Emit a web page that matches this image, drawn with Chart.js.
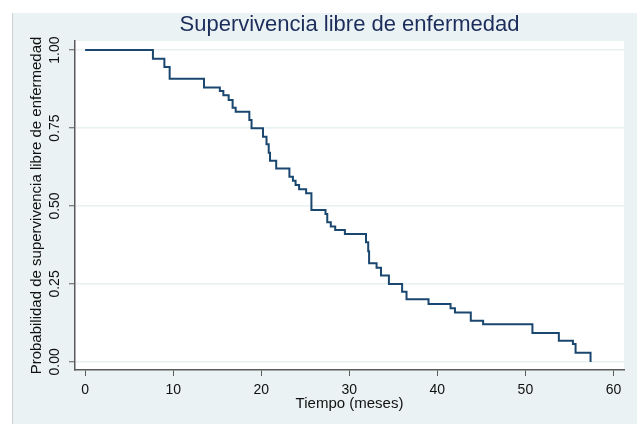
<!DOCTYPE html>
<html>
<head>
<meta charset="utf-8">
<script src="https://cdn.jsdelivr.net/npm/chart.js@4"></script>
<style>
  html, body { margin: 0; padding: 0; background: #fff; }
  #wrap { width: 637px; height: 424px; }
</style>
</head>
<body>
<div id="wrap"><canvas id="myChart" width="637" height="424"></canvas></div>
<script>
// Kaplan-Meier estimate (time in months, survival after the step)
var months = [0, 7.7, 9.0, 9.6, 13.5, 15.3, 15.7, 16.3, 16.75, 17.1, 18.65, 18.9, 20.2, 20.6, 20.85,
  21.0, 21.7, 23.2, 23.6, 23.9, 24.3, 25.1, 25.7, 27.3, 27.5, 27.9, 28.4, 29.5, 31.9, 32.15, 32.25,
  33.1, 33.6, 34.5, 36.0, 36.5, 39.0, 41.5, 42.0, 43.8, 45.2, 50.8, 53.8, 55.4, 55.7, 57.4];
var survival = [1, 0.972, 0.946, 0.908, 0.880, 0.869, 0.855, 0.840, 0.815, 0.802, 0.776, 0.749, 0.722, 0.698, 0.671,
  0.645, 0.620, 0.594, 0.581, 0.567, 0.554, 0.541, 0.487, 0.474, 0.448, 0.434, 0.423, 0.410, 0.384, 0.355, 0.316,
  0.302, 0.277, 0.250, 0.225, 0.201, 0.186, 0.172, 0.158, 0.132, 0.121, 0.093, 0.068, 0.057, 0.029, 0];

var xTicks = [0, 10, 20, 30, 40, 50, 60];
var xTickLabels = ['0', '10', '20', '30', '40', '50', '60'];
var yTicks = [0, 0.25, 0.5, 0.75, 1];
var yTickLabels = ['0.00', '0.25', '0.50', '0.75', '1.00'];

var points = months.map(function (t, i) { return { x: t, y: survival[i] }; });

var FONT = "'Liberation Sans', Arial, sans-serif";
var BG = '#eaf2f3';
var AXIS = '#5a5a5a';

// stata-like backgrounds: white page, grey-blue graph region, white plot region
var background = {
  id: 'background',
  beforeDraw: function (chart) {
    var c = chart.ctx, a = chart.chartArea;
    c.save();
    c.fillStyle = '#ffffff';
    c.fillRect(0, 0, chart.width, chart.height);
    c.fillStyle = BG;
    c.fillRect(12, 13, chart.width - 12, chart.height - 13);
    c.fillStyle = '#c9d0d3';
    c.fillRect(12, 13, 1, chart.height - 13);
    c.fillStyle = '#ffffff';
    c.fillRect(a.left, a.top, a.right - a.left, a.bottom - a.top);
    c.restore();
  }
};

var ctx = document.getElementById('myChart').getContext('2d');
var myChart = new Chart(ctx, {
  type: 'line',
  data: {
    datasets: [{
      label: 'Supervivencia',
      data: points,
      stepped: true,
      borderColor: '#1a476f',
      borderWidth: 2,
      pointRadius: 0,
      fill: false
    }]
  },
  options: {
    responsive: false,
    animation: false,
    layout: { padding: { left: 0, top: 0, right: 13, bottom: 0 } },
    plugins: {
      legend: { display: false },
      tooltip: { enabled: false },
      title: {
        display: true,
        text: 'Supervivencia libre de enfermedad',
        fullSize: false,
        color: '#1c2d5c',
        font: { family: FONT, size: 22, weight: 'normal', lineHeight: 1.2 },
        padding: { top: 12, bottom: 2.6 }
      }
    },
    scales: {
      x: {
        type: 'linear',
        min: -1.15,
        max: 61.2,
        afterFit: function (s) { s.height = 54; },
        afterBuildTicks: function (s) { s.ticks = xTicks.map(function (v) { return { value: v }; }); },
        ticks: {
          color: '#111',
          font: { family: FONT, size: 14 },
          padding: 6,
          maxRotation: 0,
          callback: function (v) { return xTickLabels[xTicks.indexOf(v)]; }
        },
        grid: { drawOnChartArea: false, drawTicks: true, tickLength: 6, tickColor: AXIS, tickWidth: 1 },
        border: { display: true, color: AXIS, width: 1.5 },
        title: {
          display: true,
          text: 'Tiempo (meses)',
          color: '#111',
          font: { family: FONT, size: 15 },
          padding: { top: 0, bottom: 11 }
        }
      },
      y: {
        type: 'linear',
        min: -0.026,
        max: 1.029,
        afterFit: function (s) { s.width = 75; },
        afterBuildTicks: function (s) { s.ticks = yTicks.map(function (v) { return { value: v }; }); },
        ticks: {
          color: '#111',
          font: { family: FONT, size: 14 },
          minRotation: 90,
          maxRotation: 90,
          crossAlign: 'center',
          padding: 0,
          callback: function (v) { return yTickLabels[yTicks.indexOf(v)]; }
        },
        grid: { color: '#e8f0f2', lineWidth: 1.5, drawTicks: true, tickLength: 6, tickColor: AXIS, tickWidth: 1 },
        border: { display: true, color: AXIS, width: 1.5 },
        title: {
          display: true,
          text: 'Probabilidad de supervivencia libre de enfermedad',
          color: '#111',
          font: { family: FONT, size: 15 },
          padding: { top: 28, bottom: 0 }
        }
      }
    }
  },
  plugins: [background]
});
</script>
</body>
</html>
